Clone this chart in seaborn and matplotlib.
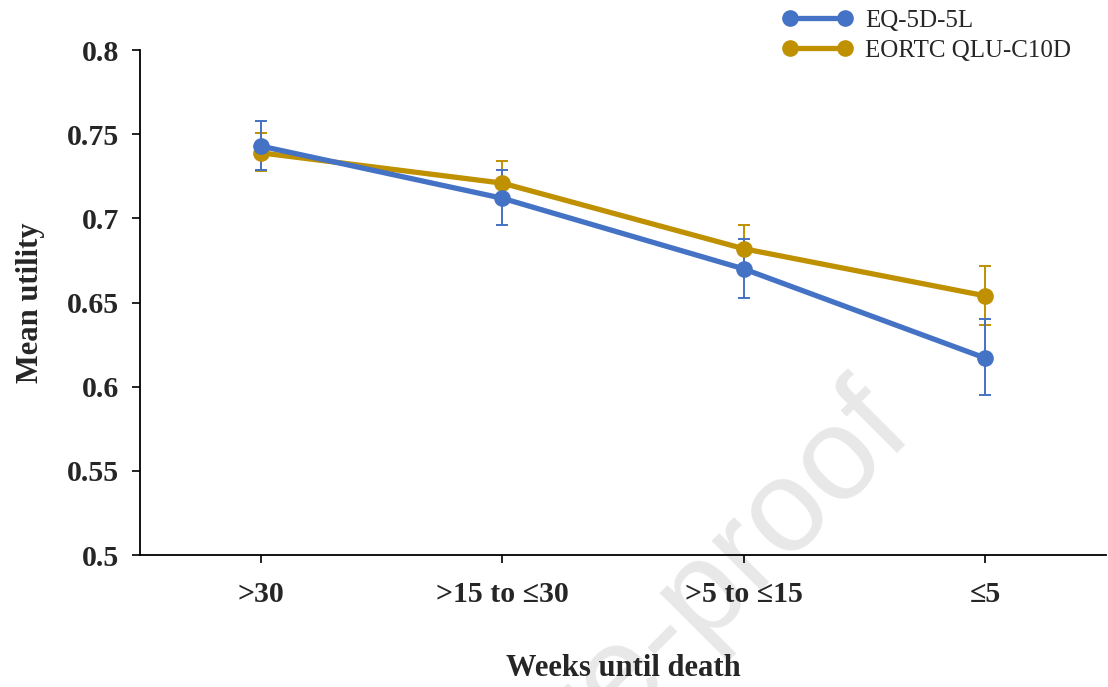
import matplotlib
matplotlib.use("Agg")
import matplotlib.pyplot as plt
import seaborn as sns
import pandas as pd
import numpy as np
from matplotlib.lines import Line2D

categories = [">30", ">15 to \u226430", ">5 to \u226415", "\u22645"]
eq5d_mean = [0.743, 0.712, 0.670, 0.617]
eq5d_low = [0.729, 0.696, 0.653, 0.595]
eq5d_high = [0.758, 0.729, 0.688, 0.640]
qlu_mean = [0.739, 0.721, 0.682, 0.654]
qlu_low = [0.728, 0.709, 0.669, 0.637]
qlu_high = [0.751, 0.734, 0.696, 0.672]
series_names = ["EQ-5D-5L", "EORTC QLU-C10D"]
colors = {"EQ-5D-5L": "#4472C4", "EORTC QLU-C10D": "#BF9000"}

sns.set_style("white")
plt.rcParams["font.family"] = ["Liberation Serif", "DejaVu Serif"]

df = pd.DataFrame({
    "cat": categories * 2,
    "pos": list(range(len(categories))) * 2,
    "mean": eq5d_mean + qlu_mean,
    "low": eq5d_low + qlu_low,
    "high": eq5d_high + qlu_high,
    "series": [series_names[0]] * 4 + [series_names[1]] * 4,
})

fig = plt.figure(figsize=(11.08, 6.87), dpi=100)
ax = fig.add_axes([0.1264, 0.192, 0.872, 0.735])
ax.patch.set_alpha(0)

# watermark
fig.text(916 / 1108, 1 - 436 / 687, "Journal Pre-proof", fontsize=95, color="#e8e8e8",
         family=["Liberation Sans", "DejaVu Sans"], rotation=45,
         rotation_mode="anchor", ha="right", va="baseline", zorder=-5)

# draw gold first, then blue on top
for name, z in [(series_names[1], 2), (series_names[0], 3)]:
    sub = df[df["series"] == name]
    ax.errorbar(sub["pos"], sub["mean"],
                yerr=[sub["mean"] - sub["low"], sub["high"] - sub["mean"]],
                fmt="none", ecolor=colors[name], elinewidth=1.4, capsize=4.5,
                capthick=1.4, zorder=z)

sns.lineplot(data=df, x="pos", y="mean", hue="series",
             hue_order=[series_names[1], series_names[0]],
             palette=colors, marker="o", markersize=12, markeredgewidth=0,
             linewidth=3.8, ax=ax, legend=False, zorder=4)

ax.set_xlim(-0.5, 3.5)
ax.set_ylim(0.5, 0.8)
ax.set_xticks(range(len(categories)))
ax.set_xticklabels(categories)
ax.set_yticks(np.arange(0.5, 0.8001, 0.05))
ax.set_yticklabels(["0.5", "0.55", "0.6", "0.65", "0.7", "0.75", "0.8"])

for lbl in ax.get_xticklabels() + ax.get_yticklabels():
    lbl.set_fontweight("bold")
    lbl.set_fontsize(21.5)

ax.set_xlabel("Weeks until death", fontsize=22, fontweight="bold", labelpad=33)
ax.set_ylabel("Mean utility", fontsize=22, fontweight="bold", labelpad=16)

for side in ["top", "right"]:
    ax.spines[side].set_visible(False)
for side in ["left", "bottom"]:
    ax.spines[side].set_color("black")
    ax.spines[side].set_linewidth(1.3)

ax.tick_params(axis="both", direction="out", length=6, width=1.2, color="black",
               bottom=True, left=True)
ax.tick_params(axis="x", pad=13)
ax.tick_params(axis="y", pad=9)

handles = [Line2D([0], [0], color=colors[n], lw=3.8, marker="o", markersize=12,
                  markeredgewidth=0) for n in series_names]
leg = fig.legend(handles, series_names, loc="upper left",
                 bbox_to_anchor=(0.686, 1.019), frameon=False, fontsize=18,
                 numpoints=2, handlelength=2.8, handletextpad=0.5,
                 labelspacing=0.3)

fig.savefig("out.png", dpi=100)
